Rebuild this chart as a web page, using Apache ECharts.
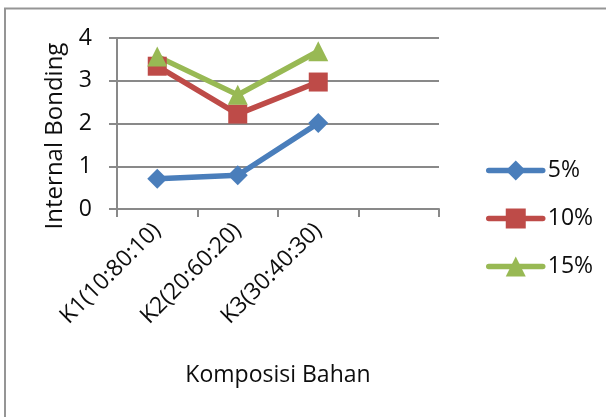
<!DOCTYPE html>
<html>
<head>
<meta charset="utf-8">
<script src="https://cdn.jsdelivr.net/npm/echarts@6/dist/echarts.min.js"></script>
<style>
  html, body { margin: 0; padding: 0; background: #fff; }
  #chart { width: 606px; height: 417px; }
</style>
</head>
<body>
<div id="chart"></div>
<script>
// Composition categories (the last slot is an empty category)
const categories = ['K1(10:80:10)', 'K2(20:60:20)', 'K3(30:40:30)', ''];
// Internal bonding per binder level
const seriesNames = ['5%', '10%', '15%'];
const values5 = [0.71, 0.79, 2.01];
const values10 = [3.34, 2.22, 2.97];
const values15 = [3.57, 2.67, 3.69];
const yTicks = [0, 1, 2, 3, 4];

const FONT = '"Open Sans", sans-serif';
const GRID_COLOR = '#898989';
const TEXT_COLOR = '#0d0d0d';

const chart = echarts.init(document.getElementById('chart'), null, { renderer: 'canvas' });

function lineSeries(name, data, color, symbol, size) {
  return {
    name: name,
    type: 'line',
    data: data,
    symbol: symbol,
    symbolSize: size,
    showAllSymbol: true,
    lineStyle: { color: color, width: 5.5 },
    itemStyle: { color: color },
    emphasis: { disabled: true },
    animation: false
  };
}

chart.setOption({
  animation: false,
  textStyle: { fontFamily: FONT },
  grid: { left: 117, right: 167, top: 38, bottom: 208, containLabel: false },
  xAxis: {
    type: 'category',
    data: categories,
    boundaryGap: true,
    name: 'Komposisi Bahan',
    nameLocation: 'middle',
    nameGap: 155,
    nameTextStyle: { fontFamily: FONT, fontSize: 23, color: TEXT_COLOR },
    axisLine: { lineStyle: { color: GRID_COLOR, width: 2 } },
    axisTick: { show: true, length: 8, lineStyle: { color: GRID_COLOR, width: 2 } },
    axisLabel: { rotate: 45, margin: 18, fontFamily: FONT, fontSize: 23, color: TEXT_COLOR, interval: 0 },
    splitLine: { show: false }
  },
  yAxis: {
    type: 'value',
    min: yTicks[0],
    max: yTicks[yTicks.length - 1],
    interval: 1,
    axisLine: { show: true, lineStyle: { color: GRID_COLOR, width: 2 } },
    axisTick: { show: true, length: 8, lineStyle: { color: GRID_COLOR, width: 2 } },
    axisLabel: { margin: 25, fontFamily: FONT, fontSize: 23, color: TEXT_COLOR },
    splitLine: { show: true, lineStyle: { color: GRID_COLOR, width: 2 } }
  },
  legend: {
    orient: 'vertical',
    left: 481,
    top: 153,
    itemWidth: 54,
    itemHeight: 25,
    itemGap: 23,
    itemStyle: { borderWidth: 0 },
    lineStyle: { width: 5.5, cap: 'round' },
    textStyle: { fontFamily: FONT, fontSize: 23, color: TEXT_COLOR, lineHeight: 25 },
    data: seriesNames
  },
  graphic: [
    {
      type: 'rect',
      shape: { x: 5, y: 8.5, width: 700, height: 500 },
      style: { fill: 'none', stroke: '#959595', lineWidth: 2 },
      silent: true
    },
    {
      type: 'text',
      x: 55,
      y: 136,
      rotation: Math.PI / 2,
      style: {
        text: 'Internal Bonding',
        font: '24px ' + FONT,
        fill: TEXT_COLOR,
        textAlign: 'center',
        textVerticalAlign: 'middle'
      },
      silent: true
    }
  ],
  series: [
    lineSeries(seriesNames[0], values5, '#4A7EBB', 'diamond', 20),
    lineSeries(seriesNames[1], values10, '#BE4B48', 'rect', 19),
    lineSeries(seriesNames[2], values15, '#98B954', 'triangle', 20)
  ]
});
</script>
</body>
</html>
